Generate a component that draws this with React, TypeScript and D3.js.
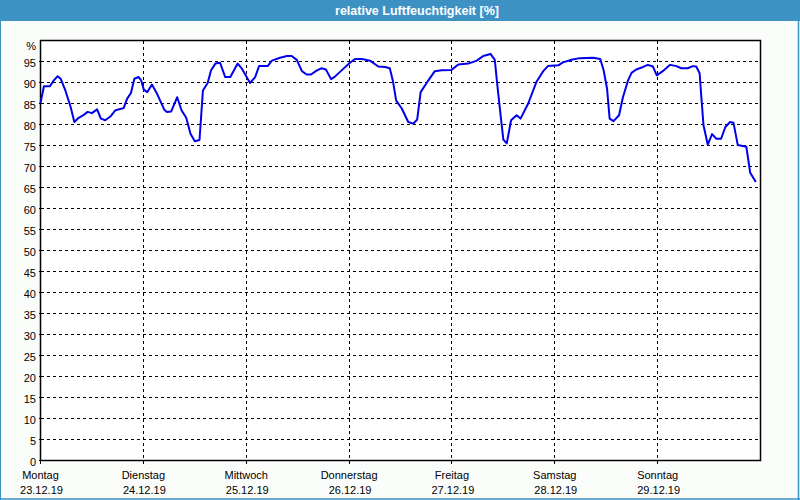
import React from "react";
import * as d3 from "d3";

const TITLE = "relative Luftfeuchtigkeit [%]";
const dayNames = ["Montag", "Dienstag", "Mittwoch", "Donnerstag", "Freitag", "Samstag", "Sonntag"];
const dayDates = ["23.12.19", "24.12.19", "25.12.19", "26.12.19", "27.12.19", "28.12.19", "29.12.19"];
const yTicks = [0, 5, 10, 15, 20, 25, 30, 35, 40, 45, 50, 55, 60, 65, 70, 75, 80, 85, 90, 95];

// hours since Monday 23.12.19 00:00
const hours = [
  0, 0.8, 2.2, 3.1, 4.0, 4.7, 5.8, 7.0, 7.9, 8.9, 10.1, 11.0, 12.0, 13.2, 14.1, 15.1, 16.3, 17.5, 18.6, 19.4,
  20.2, 21.1, 21.9, 22.9, 23.5, 24.1, 24.9, 26.0, 27.2, 28.9, 29.5, 30.5, 31.9, 32.9, 34.0, 35.0, 36.0, 37.1,
  37.9, 39.0, 39.8, 40.8, 41.9, 43.1, 44.3, 46.0, 47.0, 48.9, 50.1, 51.0, 53.0, 54.0, 55.9, 57.5, 58.6, 59.8,
  61.0, 62.1, 63.1, 64.5, 65.6, 66.6, 67.8, 68.7, 70.7, 72.2, 73.4, 75.0, 76.9, 78.8, 80.4, 81.5, 82.2, 83.0,
  84.3, 85.8, 87.0, 87.9, 88.7, 90.1, 92.0, 93.6, 95.9, 97.5, 99.8, 101.8, 103.3, 105.0, 106.0, 106.6, 107.4,
  108.0, 108.8, 109.8, 111.1, 112.0, 113.8, 115.7, 117.3, 118.4, 120.8, 121.9, 123.9, 125.8, 128.9, 130.6,
  131.4, 132.2, 132.8, 133.7, 135.0, 135.9, 137.1, 137.9, 139.0, 140.6, 141.7, 142.9, 143.8, 145.2, 146.9,
  148.4, 149.5, 151.0, 152.2, 153.0, 153.8, 154.2, 154.7, 155.7, 156.7, 157.7, 158.8, 159.8, 160.9, 161.7,
  162.7, 164.7, 165.6, 166.9,
];
const humidity = [
  85.1, 89.1, 89.1, 90.5, 91.5, 90.9, 88.1, 84.3, 80.6, 81.6, 82.3, 83.0, 82.7, 83.6, 81.4, 81.0, 81.9, 83.4, 83.7, 83.9,
  86.1, 87.5, 90.9, 91.3, 90.5, 88.3, 87.7, 89.5, 87.3, 83.5, 83.0, 83.1, 86.5, 83.4, 81.6, 77.8, 76.0, 76.3,
  88.1, 89.9, 92.9, 94.5, 94.7, 91.3, 91.3, 94.5, 93.3, 89.9, 91.3, 93.9, 93.9, 95.2, 95.9, 96.3, 96.3, 95.4,
  92.7, 91.9, 91.9, 92.9, 93.4, 93.1, 90.8, 91.4, 93.3, 94.7, 95.6, 95.6, 95.2, 93.8, 93.7, 93.4, 90.5, 85.7,
  83.8, 80.6, 80.2, 81.2, 87.7, 89.9, 92.7, 92.9, 93.0, 94.3, 94.5, 95.2, 96.3, 96.8, 95.4, 89.3, 81.8,
  76.4, 75.5, 81.0, 82.2, 81.4, 85.0, 90.1, 92.7, 93.9, 94.1, 94.8, 95.4, 95.8, 95.9, 95.6,
  92.9, 88.5, 81.4, 80.8, 82.2, 86.5, 90.5, 92.3, 93.1, 93.7, 94.2, 93.8, 91.7, 92.7, 94.2,
  93.9, 93.4, 93.4, 93.9, 93.8, 92.2, 86.5, 79.8, 75.2, 77.7, 76.6, 76.6, 79.4, 80.6, 80.4,
  75.1, 74.7, 68.5, 66.3,
];

export default function App() {
  const W = 800;
  const H = 500;
  const x = d3.scaleLinear().domain([0, 168]).range([40.5, 760.5]);
  const y = d3.scaleLinear().domain([0, 100]).range([460.5, 40.5]);
  const pts: [number, number][] = hours.map((h, i) => [h, humidity[i]]);
  const line = d3
    .line<[number, number]>()
    .x((d) => x(d[0]))
    .y((d) => y(d[1]));
  const font = "'Liberation Sans', Arial, sans-serif";
  const dayTicks = d3.range(0, 7).map((d) => d * 24);

  return (
    <div style={{ position: "fixed", left: 0, top: 0, width: W, height: H }}>
      <svg width={W} height={H} style={{ display: "block" }} fontFamily={font}>
        <rect x={0} y={0} width={W} height={H} fill="#fbfdfb" />
        <rect x={0} y={0} width={W} height={21} fill="#3d91c3" />
        <text x={417} y={15} textAnchor="middle" fill="#ffffff" fontWeight="bold" fontSize={12.5}>
          {TITLE}
        </text>
        {/* window border */}
        <line x1={0.5} y1={21} x2={0.5} y2={500} stroke="#3d91c3" strokeWidth={1} />
        <line x1={798.5} y1={21} x2={798.5} y2={500} stroke="#3d91c3" strokeWidth={1.5} />
        <line x1={0} y1={499} x2={800} y2={499} stroke="#3d91c3" strokeWidth={1.5} />
        {/* plot background */}
        <rect x={x(0)} y={y(100)} width={x(168) - x(0)} height={y(0) - y(100)} fill="#ffffff" />
        {/* horizontal grid */}
        {yTicks.filter((t) => t > 0).map((t) => (
          <line key={"h" + t} x1={x(0)} x2={x(168)} y1={y(t)} y2={y(t)} stroke="#000" strokeWidth={1} strokeDasharray="3,3" shapeRendering="crispEdges" />
        ))}
        {/* vertical grid */}
        {dayTicks.filter((t) => t > 0).map((t) => (
          <line key={"v" + t} x1={x(t)} x2={x(t)} y1={y(100)} y2={y(0)} stroke="#000" strokeWidth={1} strokeDasharray="3,3" shapeRendering="crispEdges" />
        ))}
        {/* tick marks */}
        {dayTicks.map((t) => (
          <line key={"xt" + t} x1={x(t)} x2={x(t)} y1={y(0)} y2={y(0) + 3} stroke="#000" strokeWidth={1} shapeRendering="crispEdges" />
        ))}
        {yTicks.map((t) => (
          <line key={"yt" + t} x1={x(0) - 2} x2={x(0)} y1={y(t)} y2={y(t)} stroke="#000" strokeWidth={1} shapeRendering="crispEdges" />
        ))}
        {/* frame */}
        <rect x={x(0)} y={y(100)} width={x(168) - x(0)} height={y(0) - y(100)} fill="none" stroke="#000" strokeWidth={1.5} />
        {/* y labels */}
        {yTicks.map((t) => (
          <text key={"yl" + t} x={36} y={y(t) + 5} textAnchor="end" fontSize={11} fill="#000">
            {t}
          </text>
        ))}
        <text x={36} y={50} textAnchor="end" fontSize={11} fill="#000">%</text>
        {/* x labels */}
        {dayTicks.map((t, i) => (
          <g key={"xl" + t}>
            <text x={x(t)} y={479} textAnchor="middle" fontSize={11} fill="#000">{dayNames[i]}</text>
            <text x={x(t) + 1} y={494} textAnchor="middle" fontSize={11} fill="#000">{dayDates[i]}</text>
          </g>
        ))}
        {/* data line */}
        <path d={line(pts) || ""} fill="none" stroke="#0000ee" strokeWidth={2} strokeLinejoin="round" />
      </svg>
    </div>
  );
}
